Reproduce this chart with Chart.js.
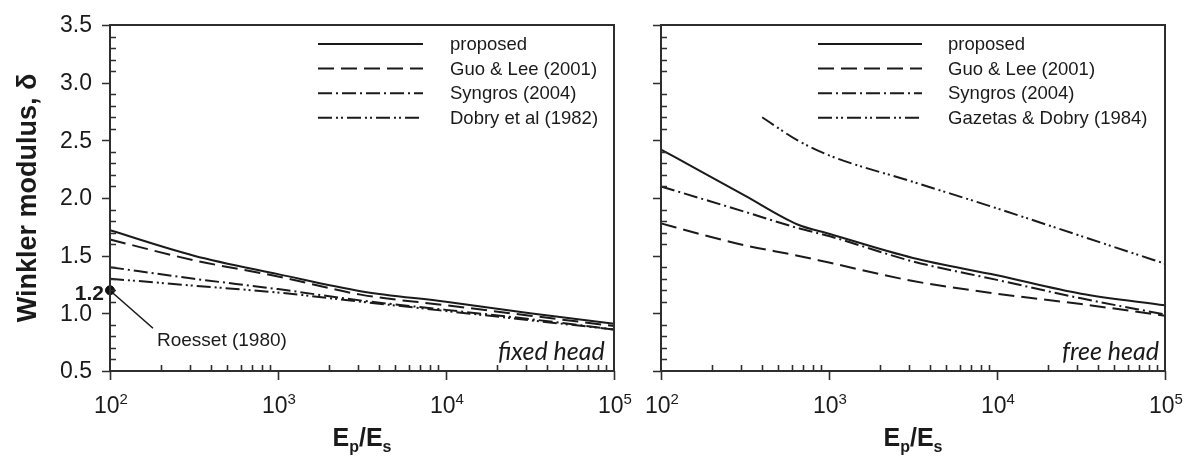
<!DOCTYPE html>
<html>
<head>
<meta charset="utf-8">
<script src="https://cdn.jsdelivr.net/npm/chart.js@4/dist/chart.umd.min.js"></script>
<style>
  html, body { margin:0; padding:0; background:#fff; }
  #wrap { position:relative; width:1184px; height:459px; overflow:hidden; background:#fff; }
  canvas { position:absolute; top:0; }
</style>
</head>
<body>
<div id="wrap">
  <canvas id="left" width="640" height="459" style="left:0"></canvas>
  <canvas id="right" width="544" height="459" style="left:640px"></canvas>
</div>
<script>
// ---------- DATA ----------
const seriesNames = ['proposed', 'Guo & Lee (2001)', 'Syngros (2004)'];
const fourthFixedName = 'Dobry et al (1982)';
const fourthFreeName = 'Gazetas & Dobry (1984)';

// fixed head (left panel)
const xFixed = [100, 316, 1000, 3162, 10000, 31623, 100000];
const fixedProposed = [1.72, 1.50, 1.34, 1.19, 1.10, 1.00, 0.91];
const fixedGuoLee   = [1.64, 1.46, 1.32, 1.16, 1.07, 0.98, 0.89];
const fixedSyngros  = [1.40, 1.30, 1.21, 1.11, 1.03, 0.95, 0.86];
const fixedDobry    = [1.30, 1.24, 1.18, 1.10, 1.02, 0.94, 0.86];
const roessetX = [100];
const roessetY = [1.2];

// free head (right panel)
const xFree = [100, 178, 316, 650, 1000, 3162, 10000, 31623, 100000];
const freeProposed = [2.42, 2.22, 2.02, 1.77, 1.69, 1.48, 1.33, 1.17, 1.07];
const freeGuoLee   = [1.78, 1.68, 1.59, 1.50, 1.44, 1.28, 1.17, 1.08, 0.98];
const freeSyngros  = [2.10, 1.99, 1.88, 1.74, 1.67, 1.45, 1.29, 1.13, 0.99];
const xGazetas     = [400, 650, 1000, 3162, 10000, 31623, 100000];
const freeGazetas  = [2.70, 2.50, 2.37, 2.14, 1.91, 1.67, 1.43];

// ticks
const yTickValues = [0.5, 1.0, 1.5, 2.0, 2.5, 3.0, 3.5];
const yTickLabels = ['0.5', '1.0', '1.5', '2.0', '2.5', '3.0', '3.5'];
const xTickValues = [100, 1000, 10000, 100000];
const xTickExponents = ['2', '3', '4', '5'];

// texts
const yTitle = 'Winkler modulus, \u03b4';
const xTitleMain = 'E';
const xTitleSub1 = 'p';
const xTitleSub2 = 's';
const roessetLabel = 'Roesset (1980)';
const roessetValueLabel = '1.2';
const fixedLabel = 'fixed head';
const freeLabel = 'free head';

// ---------- STYLE ----------
const INK = '#1a1a1a';
const AXIS = '#2e2e2e';
const SANS = '"Liberation Sans", Arial, Helvetica, sans-serif';
const dashStyles = [[], [16, 7], [14, 4, 2, 4], [14, 4, 2, 3, 2, 4]];

function pts(xs, ys) { return xs.map((x, i) => ({ x: x, y: ys[i] })); }

function lineDs(label, xs, ys, idx) {
  return {
    label: label,
    data: pts(xs, ys),
    borderColor: INK,
    borderWidth: 2,
    borderDash: dashStyles[idx],
    pointRadius: 0,
    fill: false,
    cubicInterpolationMode: 'monotone',
    clip: 2
  };
}

function makePlugin(cfg) {
  return {
    id: 'deco_' + cfg.name,
    afterDatasetsDraw(chart) {
      const ctx = chart.ctx;
      const a = chart.chartArea;
      const xs = chart.scales.x, ys = chart.scales.y;
      ctx.save();
      // frame
      ctx.strokeStyle = AXIS;
      ctx.lineWidth = 2;
      ctx.setLineDash([]);
      ctx.strokeRect(a.left, a.top, a.right - a.left, a.bottom - a.top);
      // y ticks
      ctx.lineWidth = 1.6;
      ctx.beginPath();
      for (let k = 5; k <= 35; k++) {
        const v = k / 10;
        const py = Math.round(ys.getPixelForValue(v)) + 0.5;
        if (k % 5 === 0) { ctx.moveTo(a.left - 8, py); ctx.lineTo(a.left, py); }
        else { ctx.moveTo(a.left, py); ctx.lineTo(a.left + 6, py); }
      }
      // x ticks
      for (let d = 100; d < 100000; d *= 10) {
        for (let m = 1; m <= 10; m++) {
          const v = m * d;
          const px = Math.round(xs.getPixelForValue(v)) + 0.5;
          if (m === 1 || m === 10) { ctx.moveTo(px, a.bottom); ctx.lineTo(px, a.bottom + 9); }
          else { ctx.moveTo(px, a.bottom); ctx.lineTo(px, a.bottom - 6); }
        }
      }
      ctx.stroke();

      // y tick labels
      ctx.fillStyle = INK;
      if (cfg.yLabels) {
        ctx.font = '23px ' + SANS;
        ctx.textAlign = 'right';
        ctx.textBaseline = 'middle';
        yTickValues.forEach((v, i) => {
          ctx.fillText(yTickLabels[i], a.left - 18, ys.getPixelForValue(v) + 1);
        });
      }

      // x tick labels with superscript
      ctx.textBaseline = 'alphabetic';
      xTickValues.forEach((v, i) => {
        const px = xs.getPixelForValue(v);
        ctx.font = '23px ' + SANS;
        const w1 = ctx.measureText('10').width;
        ctx.font = '15px ' + SANS;
        const w2 = ctx.measureText(xTickExponents[i]).width;
        const x0 = px - (w1 + w2) / 2 + 1;
        ctx.font = '23px ' + SANS;
        ctx.textAlign = 'left';
        ctx.fillText('10', x0, a.bottom + 42);
        ctx.font = '15px ' + SANS;
        ctx.fillText(xTickExponents[i], x0 + w1, a.bottom + 33);
      });

      // x axis title E_p/E_s
      {
        const cx = (a.left + a.right) / 2;
        const base = a.bottom + 75;
        const big = 'bold 25px ' + SANS, small = 'bold 16px ' + SANS;
        ctx.font = big; const wE = ctx.measureText(xTitleMain).width;
        const wSl = ctx.measureText('/').width;
        ctx.font = small; const wp = ctx.measureText(xTitleSub1).width;
        const ws = ctx.measureText(xTitleSub2).width;
        const total = wE + wp + wSl + wE + ws;
        let x = cx - total / 2;
        ctx.textAlign = 'left';
        ctx.font = big; ctx.fillText(xTitleMain, x, base); x += wE;
        ctx.font = small; ctx.fillText(xTitleSub1, x, base + 6); x += wp;
        ctx.font = big; ctx.fillText('/' + xTitleMain, x, base); x += wSl + wE;
        ctx.font = small; ctx.fillText(xTitleSub2, x, base + 6);
      }

      // legend
      const L = cfg.legend;
      chart.data.datasets.slice(0, 4).forEach((ds, i) => {
        const y = L.top + i * 24.6;
        ctx.strokeStyle = INK;
        ctx.lineWidth = 2;
        ctx.setLineDash(ds.borderDash || []);
        ctx.beginPath();
        ctx.moveTo(L.x1, y); ctx.lineTo(L.x2, y);
        ctx.stroke();
        ctx.setLineDash([]);
        ctx.fillStyle = INK;
        ctx.font = '18.5px ' + SANS;
        ctx.textAlign = 'left';
        ctx.textBaseline = 'middle';
        ctx.fillText(ds.label, L.tx, y + 1);
      });

      // head label
      ctx.textBaseline = 'alphabetic';
      ctx.textAlign = 'left';
      ctx.fillStyle = INK;
      ctx.font = 'italic 25px Lato, "Noto Sans", sans-serif';
      ctx.fillText(cfg.headText, cfg.headX, a.bottom - 11);

      if (cfg.roesset) {
        const px = xs.getPixelForValue(roessetX[0]);
        const py = ys.getPixelForValue(roessetY[0]);
        ctx.strokeStyle = INK;
        ctx.lineWidth = 1.6;
        ctx.beginPath();
        ctx.moveTo(px + 2, py + 2);
        ctx.lineTo(px + 43, py + 38);
        ctx.stroke();
        ctx.font = '19px ' + SANS;
        ctx.fillText(roessetLabel, px + 47, py + 56);
        ctx.font = 'bold 21px ' + SANS;
        ctx.textAlign = 'right';
        ctx.textBaseline = 'middle';
        ctx.fillText(roessetValueLabel, px - 6, py + 4);
      }
      ctx.restore();
    }
  };
}

function baseOptions(yAxisWidth, padRight, showTitle) {
  return {
    responsive: false,
    animation: false,
    devicePixelRatio: 1,
    layout: { padding: { top: 25, right: padRight, left: 0, bottom: 0 } },
    plugins: { legend: { display: false }, tooltip: { enabled: false } },
    scales: {
      x: {
        type: 'logarithmic', min: 100, max: 100000,
        grid: { display: false, drawTicks: false },
        border: { display: false },
        ticks: { display: false },
        afterFit(s) { s.height = 88; }
      },
      y: {
        type: 'linear', min: 0.5, max: 3.5,
        grid: { display: false, drawTicks: false },
        border: { display: false },
        ticks: { display: false, stepSize: 0.5 },
        title: {
          display: showTitle,
          text: yTitle,
          color: INK,
          font: { family: SANS, size: 27, weight: 'bold' },
          padding: { top: 12, bottom: 0 }
        },
        afterFit(s) { s.width = yAxisWidth; }
      }
    }
  };
}

new Chart(document.getElementById('left'), {
  type: 'line',
  data: {
    datasets: [
      lineDs(seriesNames[0], xFixed, fixedProposed, 0),
      lineDs(seriesNames[1], xFixed, fixedGuoLee, 1),
      lineDs(seriesNames[2], xFixed, fixedSyngros, 2),
      lineDs(fourthFixedName, xFixed, fixedDobry, 3),
      {
        label: 'Roesset (1980)',
        data: pts(roessetX, roessetY),
        showLine: false,
        pointRadius: 4.5,
        pointBackgroundColor: '#111',
        pointBorderColor: '#111',
        clip: false
      }
    ]
  },
  options: baseOptions(110, 26, true),
  plugins: [makePlugin({
    name: 'left', headText: fixedLabel, headX: 498, roesset: true, yLabels: true,
    legend: { top: 44, x1: 318, x2: 423, tx: 450 }
  })]
});

new Chart(document.getElementById('right'), {
  type: 'line',
  data: {
    datasets: [
      lineDs(seriesNames[0], xFree, freeProposed, 0),
      lineDs(seriesNames[1], xFree, freeGuoLee, 1),
      lineDs(seriesNames[2], xFree, freeSyngros, 2),
      lineDs(fourthFreeName, xGazetas, freeGazetas, 3)
    ]
  },
  options: baseOptions(21, 19, false),
  plugins: [makePlugin({
    name: 'right', headText: freeLabel, headX: 422, roesset: false, yLabels: false,
    legend: { top: 44, x1: 178, x2: 282, tx: 308 }
  })]
});
</script>
</body>
</html>
